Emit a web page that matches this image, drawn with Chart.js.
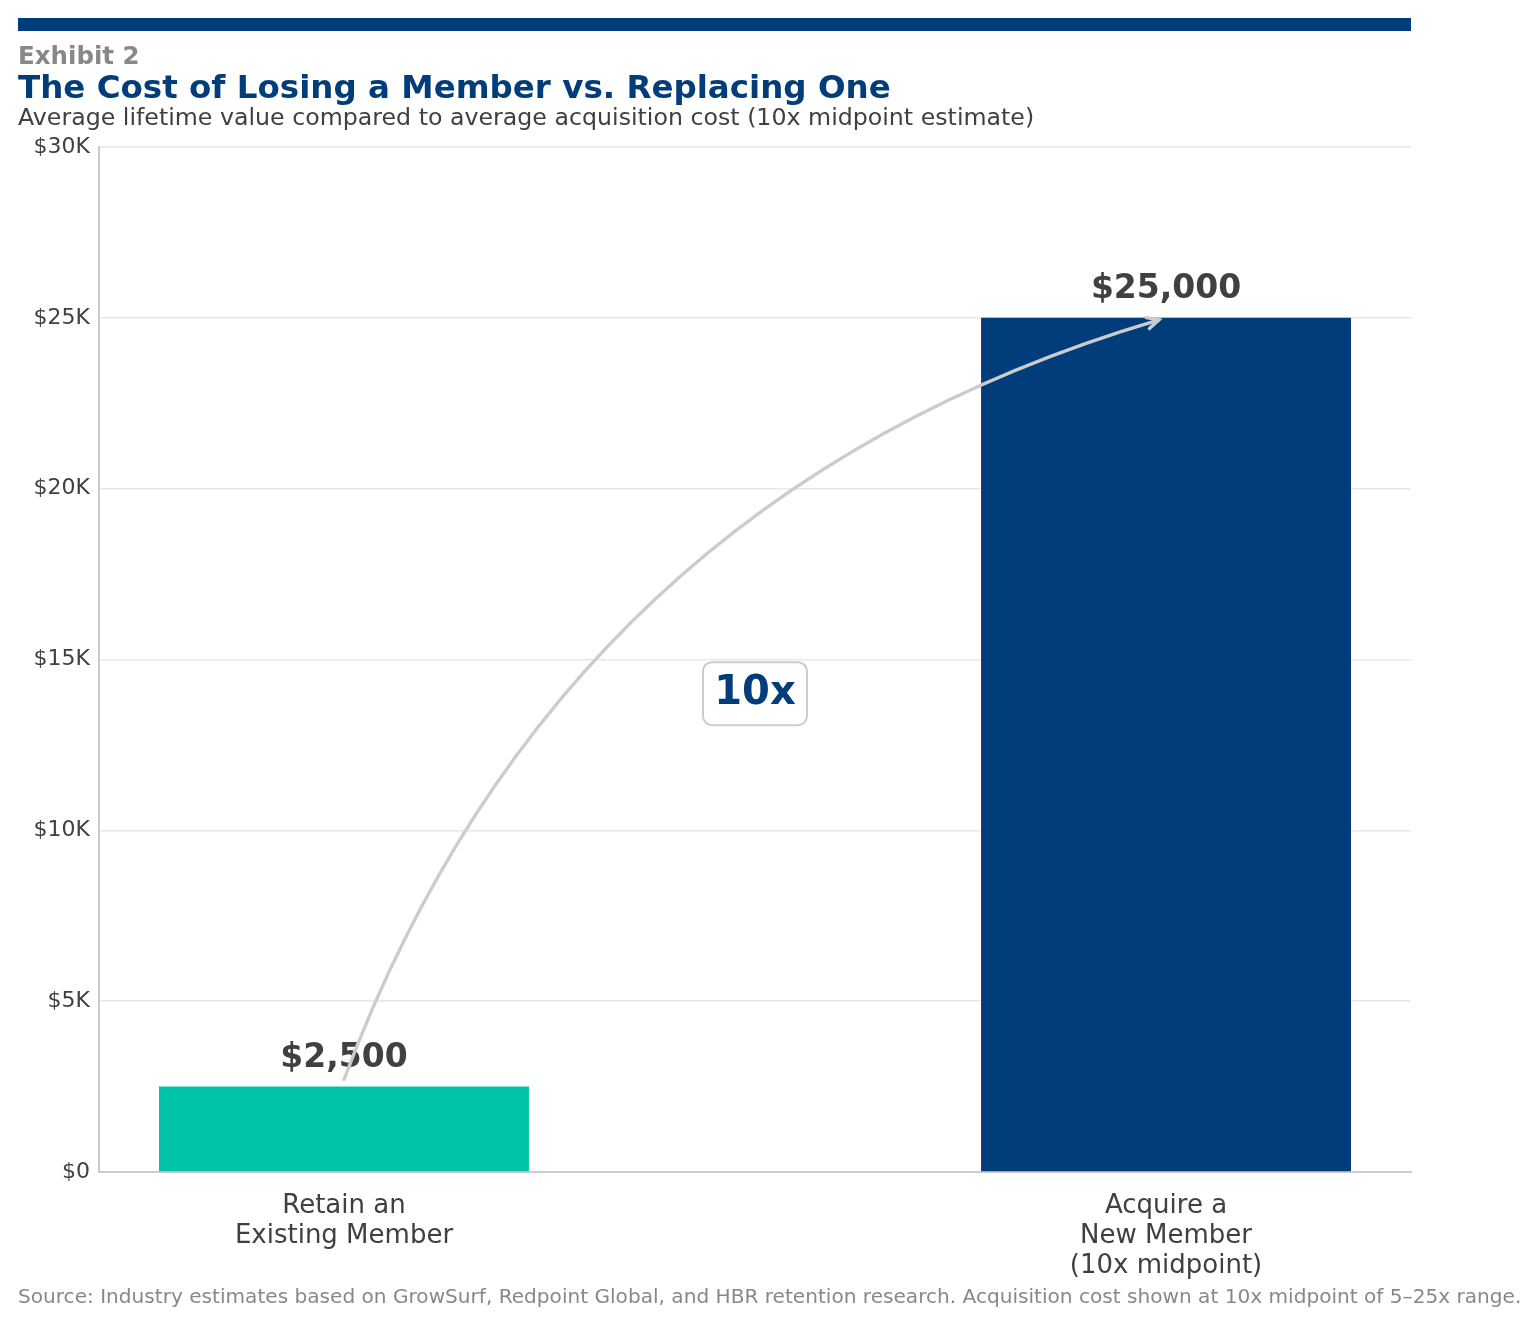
<!DOCTYPE html>
<html>
<head>
<meta charset="utf-8">
<script src="https://cdn.jsdelivr.net/npm/chart.js@4"></script>
<style>
  html, body { margin: 0; padding: 0; background: #fff; }
  #wrap { width: 1537px; height: 1325px; position: relative; }
</style>
</head>
<body>
<div id="wrap"><canvas id="costChart" width="1537" height="1325"></canvas></div>
<script>
// data
const categories = [["Retain an", "Existing Member"], ["Acquire a", "New Member", "(10x midpoint)"]];
const positions = [0, 1];
const costs = [2500, 25000];
const valueLabels = ["$2,500", "$25,000"];
const barColors = ["#00C2A8", "#003D7A"];
const yTicks = [0, 5000, 10000, 15000, 20000, 25000, 30000];
const yTickLabels = ["$0", "$5K", "$10K", "$15K", "$20K", "$25K", "$30K"];
const multipleText = "10x";
const multipleAt = [0.5, 14000];

const FONT = "'DejaVu Sans', 'Noto Sans', sans-serif";
const NAVY = "#003D7A";

// header, footer, labels, arrow and the 10x box
const decorPlugin = {
  id: "decor",
  afterDatasetsDraw(chart) {
    const ctx = chart.ctx;
    const x = chart.scales.x, y = chart.scales.y;

    // value labels above bars
    ctx.save();
    ctx.fillStyle = "#404040";
    ctx.font = "bold 33px " + FONT;
    ctx.textAlign = "center";
    ctx.textBaseline = "alphabetic";
    costs.forEach((v, i) => {
      ctx.fillText(valueLabels[i], x.getPixelForValue(positions[i]), y.getPixelForValue(v) - 20);
    });
    ctx.restore();

    // curved arrow (arc3-like quadratic)
    const x0 = x.getPixelForValue(positions[0]), y0 = y.getPixelForValue(costs[0]) - 7;
    const x1 = x.getPixelForValue(positions[1]) - 7, y1 = y.getPixelForValue(costs[1]) + 2;
    const rad = 0.25;
    const cx = (x0 + x1) / 2 - rad * (y0 - y1);
    const cy = (y0 + y1) / 2 - rad * (x1 - x0);
    ctx.save();
    ctx.strokeStyle = "#CCCCCC";
    ctx.lineWidth = 3.3;
    ctx.lineCap = "round";
    ctx.beginPath();
    ctx.moveTo(x0, y0);
    ctx.quadraticCurveTo(cx, cy, x1, y1);
    ctx.stroke();
    const ang = Math.atan2(y1 - cy, x1 - cx);
    const hl = 13;
    ctx.beginPath();
    ctx.moveTo(x1 - hl * Math.cos(ang - 0.45), y1 - hl * Math.sin(ang - 0.45));
    ctx.lineTo(x1, y1);
    ctx.lineTo(x1 - hl * Math.cos(ang + 0.45), y1 - hl * Math.sin(ang + 0.45));
    ctx.stroke();
    ctx.restore();

    // 10x box
    const bx = x.getPixelForValue(multipleAt[0]), by = y.getPixelForValue(multipleAt[1]);
    const bw = 104, bh = 63;
    ctx.save();
    ctx.fillStyle = "#fff";
    ctx.strokeStyle = "#CCCCCC";
    ctx.lineWidth = 2;
    ctx.beginPath();
    ctx.roundRect(bx - bw / 2, by - bh / 2, bw, bh, 9);
    ctx.fill();
    ctx.stroke();
    ctx.fillStyle = NAVY;
    ctx.font = "bold 40px " + FONT;
    ctx.textAlign = "center";
    ctx.textBaseline = "middle";
    ctx.fillText(multipleText, bx, by);
    ctx.restore();
  },
  afterDraw(chart) {
    const ctx = chart.ctx;
    ctx.save();
    ctx.fillStyle = NAVY;
    ctx.fillRect(18, 18, 1393, 13);
    ctx.textAlign = "left";
    ctx.textBaseline = "alphabetic";
    ctx.fillStyle = "#888888";
    ctx.font = "bold 24.5px " + FONT;
    ctx.fillText("Exhibit 2", 18, 64);
    ctx.fillStyle = NAVY;
    ctx.font = "bold 32.5px " + FONT;
    ctx.fillText("The Cost of Losing a Member vs. Replacing One", 18, 98);
    ctx.fillStyle = "#404040";
    ctx.font = "23.7px " + FONT;
    ctx.fillText("Average lifetime value compared to average acquisition cost (10x midpoint estimate)", 18, 125);
    ctx.fillStyle = "#888888";
    ctx.font = "20.1px " + FONT;
    ctx.fillText("Source: Industry estimates based on GrowSurf, Redpoint Global, and HBR retention research. Acquisition cost shown at 10x midpoint of 5\u201325x range.", 18, 1303);
    ctx.restore();
  }
};

new Chart(document.getElementById("costChart"), {
  type: "bar",
  data: {
    datasets: [{
      data: positions.map((p, i) => ({ x: p, y: costs[i] })),
      backgroundColor: barColors,
      borderWidth: 0,
      barPercentage: 0.45,
      categoryPercentage: 1
    }]
  },
  options: {
    responsive: false,
    animation: false,
    devicePixelRatio: 1,
    layout: { padding: { left: 18, right: 126, top: 147, bottom: 0 } },
    plugins: { legend: { display: false }, tooltip: { enabled: false } },
    scales: {
      x: {
        type: "linear",
        offset: false,
        min: -0.298,
        max: 1.298,
        grid: { display: false },
        border: { color: "#CCCCCC", width: 2 },
        afterBuildTicks: s => { s.ticks = positions.map(v => ({ value: v })); },
        afterFit: s => { s.height = 153; },
        ticks: {
          padding: 11,
          maxRotation: 0,
          autoSkip: false,
          color: "#404040",
          font: { family: FONT, size: 26, lineHeight: 1.15 },
          callback: (v) => categories[positions.indexOf(v)]
        }
      },
      y: {
        min: 0,
        max: 30000,
        afterBuildTicks: s => { s.ticks = yTicks.map(v => ({ value: v })); },
        afterFit: s => { s.width = 81; },
        grid: { color: "#E8E8E8", lineWidth: 1.5, drawTicks: false },
        border: { color: "#CCCCCC", width: 2 },
        ticks: {
          padding: 9,
          color: "#404040",
          font: { family: FONT, size: 22 },
          callback: (v) => yTickLabels[yTicks.indexOf(v)]
        }
      }
    }
  },
  plugins: [decorPlugin]
});
</script>
</body>
</html>
